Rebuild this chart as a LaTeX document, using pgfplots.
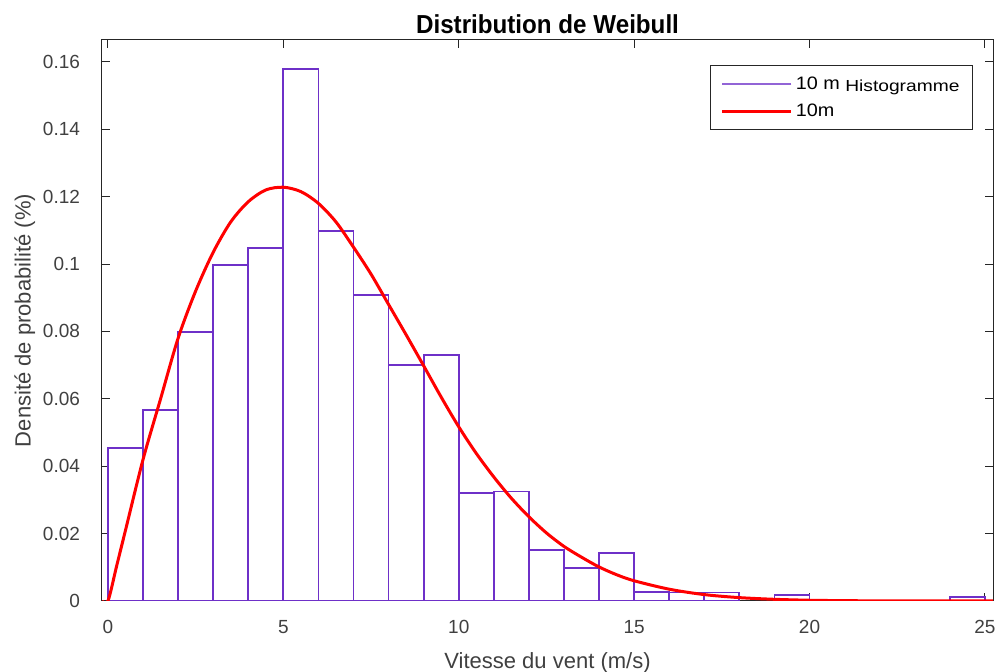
\documentclass[border=0pt]{standalone}
\usepackage{pgfplots}
\pgfplotsset{compat=1.18}
\usepackage{fontspec}
\setmainfont{Liberation Sans}
\newfontfamily\titlefont[FakeStretch=0.93]{Liberation Sans}
\newfontfamily\widefont[FakeStretch=1.2]{Liberation Sans}
\newfontfamily\legfont[FakeStretch=1.1]{Liberation Sans}
\definecolor{barcol}{RGB}{110,48,200}
\definecolor{axgray}{RGB}{38,38,38}
\definecolor{labgray}{RGB}{64,64,64}
\definecolor{curvered}{RGB}{255,0,0}
\begin{document}
\begin{tikzpicture}
\begin{axis}[
  name=ax,
  scale only axis,
  width=445.5pt, height=280.5pt,
  xmin=-0.17, xmax=25.23, ymin=0, ymax=0.1665,
  xtick={0,5,10,15,20,25},
  ytick={0,0.02,0.04,0.06,0.08,0.1,0.12,0.14,0.16},
  tick align=inside,
  axis line style={axgray, line width=0.5pt},
  major tick length=4pt,
  tick style={axgray, line width=0.5pt},
  ticklabel style={font=\fontsize{9.5}{11}\selectfont, text=labgray},
  /pgf/number format/assume math mode=true,
  yticklabel style={/pgf/number format/fixed, /pgf/number format/precision=2, xshift=-7.5pt},
  xticklabel style={yshift=-6pt},
  scaled y ticks=false,
  xlabel={Vitesse du vent (m/s)},
  ylabel={Densité de probabilité (\%)},
  x label style={at={(axis description cs:0.5,-0.11)}, anchor=center, font=\fontsize{11}{12}\selectfont, text=labgray},
  y label style={at={(axis description cs:-0.0865,0.5)}, anchor=center, rotate=0, font=\fontsize{11}{12}\selectfont, text=labgray},
  title={\titlefont\bfseries Distribution de Weibull},
  title style={at={(axis description cs:0.5,1.025)}, anchor=center, yshift=-5.25pt, font=\fontsize{13}{14}\selectfont, text=black},
  legend style={at={(0.9775,0.955)}, anchor=north east, draw=axgray, line width=0.5pt, fill=white,
    font=\legfont\fontsize{9}{10}\selectfont, inner xsep=5pt, inner ysep=2.5pt, row sep=0pt,
    nodes={inner sep=1.5pt, text height=8pt, text depth=2.5pt}},
  legend cell align=left,
]
\addplot[ybar, bar width=1, bar shift=0, draw=barcol, fill=white, line width=0.9pt,
  legend image code/.code={\draw[barcol!75, line width=1pt] (0pt,0pt) -- (34.5pt,0pt);}]
  coordinates {
  (0.5,0.0454) (1.5,0.0566) (2.5,0.0798) (3.5,0.0998) (4.5,0.1048)
  (5.5,0.1580) (6.5,0.1098) (7.5,0.0907) (8.5,0.0700) (9.5,0.0729)
  (10.5,0.0321) (11.5,0.0325) (12.5,0.0151) (13.5,0.0099) (14.5,0.0142)
  (15.5,0.0026) (16.5,0.0025) (17.5,0.0025) (19.5,0.0018) (24.5,0.0011)
  };
\addlegendentry{10 m \raisebox{-1pt}{\widefont\fontsize{8}{9}\selectfont Histogramme}}
\addplot[curvered, line width=1.5pt, smooth,
  legend image code/.code={\draw[curvered, line width=1.5pt] (0pt,0pt) -- (34.5pt,0pt);}]
  coordinates {
  (-0.17,0) (0,0) (0.25,0.0105) (0.5,0.021) (1,0.042) (1.5,0.060) (2,0.078)
  (2.5,0.092) (3,0.1035) (3.5,0.1125) (4,0.1185) (4.5,0.1220) (5,0.1228)
  (5.5,0.1215) (6,0.1180) (6.5,0.1125) (7,0.1050) (7.5,0.0970) (8,0.0880)
  (8.5,0.0790) (9,0.0698) (9.5,0.0605) (10,0.0517) (10.5,0.0438) (11,0.0368)
  (11.5,0.0305) (12,0.0250) (12.5,0.0202) (13,0.0162) (13.5,0.0130)
  (14,0.0101) (14.5,0.0078) (15,0.0060) (16,0.0035) (17,0.0019) (18,0.0010)
  (19,0.0005) (20,0.00022) (21,0.0001) (22,0.00004) (23,0.00001) (25.23,0)
  };
\addlegendentry{10m}
\end{axis}
\pgfresetboundingbox
\path ([xshift=-51pt,yshift=-35.5pt]ax.south west) rectangle ([xshift=3.5pt,yshift=20pt]ax.north east);
\end{tikzpicture}
\end{document}
